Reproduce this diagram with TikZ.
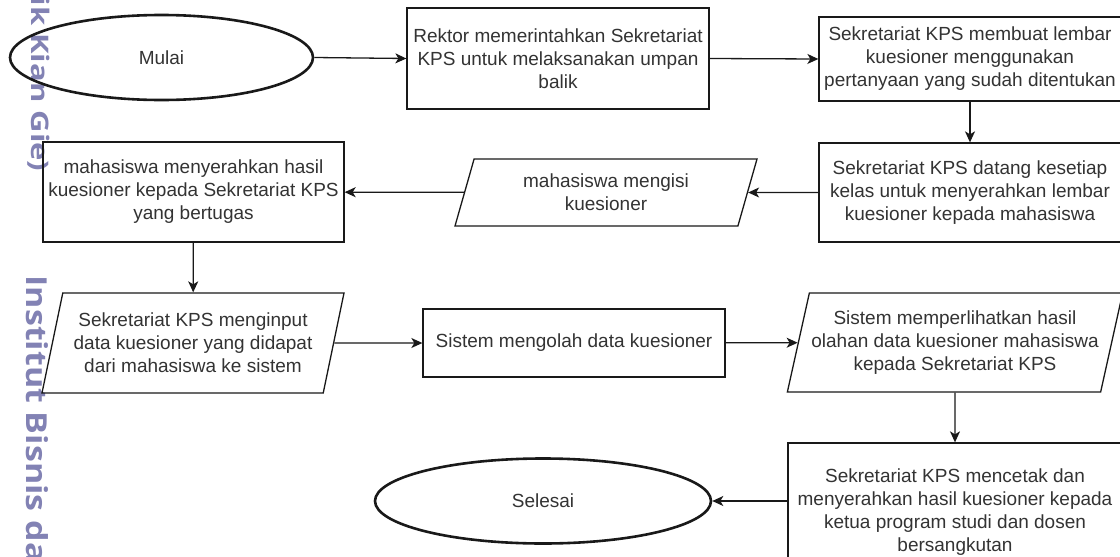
\documentclass[tikz,border=0pt]{standalone}
\usepackage{fontspec}
\usepackage{graphicx}
\setmainfont{Liberation Sans}
\newfontfamily\wmfont{Open Sans}
\usetikzlibrary{shapes.geometric,arrows.meta}
\definecolor{txt}{RGB}{51,51,51}
\definecolor{edge}{RGB}{25,25,25}
\definecolor{wm}{RGB}{130,130,180}
\newcommand{\marktext}[2][0.78]{\scalebox{1}[#1]{#2}}
\tikzset{
    box/.style={draw=edge, rectangle, line width=1.3pt, text=txt, align=center,
        inner sep=2pt, font=\fontsize{19}{23}\selectfont},
    io/.style={box, trapezium, trapezium left angle=72, trapezium right angle=108,
        trapezium stretches body=true},
    term/.style={box, ellipse, line width=2.6pt, minimum width=303pt, minimum height=85pt},
    mark text/.style={font=\wmfont\bfseries\fontsize{#1}{#1}\selectfont, text=wm,
        rotate=-90, inner sep=0pt},
}
\begin{document}
\begin{tikzpicture}[x=1pt, y=-1pt, >={Stealth[length=11pt,width=10pt,inset=3pt]},
    line width=1.3pt, color=edge]
            \path[use as bounding box] (0,0) rectangle (1120,557);
            \clip (0,0) rectangle (1120,557);
            \fill[white] (0,0) rectangle (1120,557);
            \node[mark text=31, anchor=base east] (W1) at (31,172){\marktext{(Kwik Kian Gie)}};
            \node[mark text=34, anchor=base west] (W2) at (26,275){\marktext[0.85]{Institut Bisnis dan}};
            \node[term] (M) at (161.5,57.5){Mulai};
            \node[box, minimum width=302pt, minimum height=101pt] (R) at (558,58.5){Rektor memerintahkan Sekretariat\\KPS untuk melaksanakan umpan\\balik};
            \node[box, minimum width=302pt, minimum height=84pt] (K) at (970,59){Sekretariat KPS membuat lembar\\kuesioner menggunakan\\pertanyaan yang sudah ditentukan};
            \node[box, minimum width=302pt, minimum height=99pt] (D) at (970,192.5){Sekretariat KPS datang kesetiap\\kelas untuk menyerahkan lembar\\kuesioner kepada mahasiswa};
            \node[io, trapezium left angle=65, trapezium right angle=115, minimum width=302pt, minimum height=67pt] (Q) at (606,192.5){mahasiswa mengisi\\kuesioner};
            \node[box, minimum width=301pt, minimum height=100pt] (H) at (193.5,192){mahasiswa menyerahkan hasil\\kuesioner kepada Sekretariat KPS\\yang bertugas};
            \node[io, minimum width=302pt, minimum height=100pt] (In) at (193,343){Sekretariat KPS menginput\\data kuesioner yang didapat\\dari mahasiswa ke sistem};
            \node[box, minimum width=302pt, minimum height=68pt] (Ol) at (574,343){Sistem mengolah data kuesioner};
            \node[io, minimum width=334pt, minimum height=99pt] (Li) at (955,342.5){Sistem memperlihatkan hasil\\olahan data kuesioner mahasiswa\\kepada Sekretariat KPS};
            \node[box, minimum width=334pt, minimum height=138pt] (Ce) at (955,512){Sekretariat KPS mencetak dan\\menyerahkan hasil kuesioner kepada\\ketua program studi dan dosen\\bersangkutan};
            \node[term, minimum width=336pt] (S) at (543,501){Selesai};
            \draw[->] (M.east) -- (R.west);
            \draw[->] (R.east) -- (K.west);
            \draw[->] (K) -- (D);
            \draw[->] (D) -- (Q);
            \draw[->] (Q) -- (H);
            \draw[->] (H) -- (In);
            \draw[->] (In) -- (Ol);
            \draw[->] (Ol) -- (Li);
            \draw[->] (Li) -- (Ce);
            \draw[->] (S.east -| Ce.west) -- (S);
        \end{tikzpicture}
\end{document}
